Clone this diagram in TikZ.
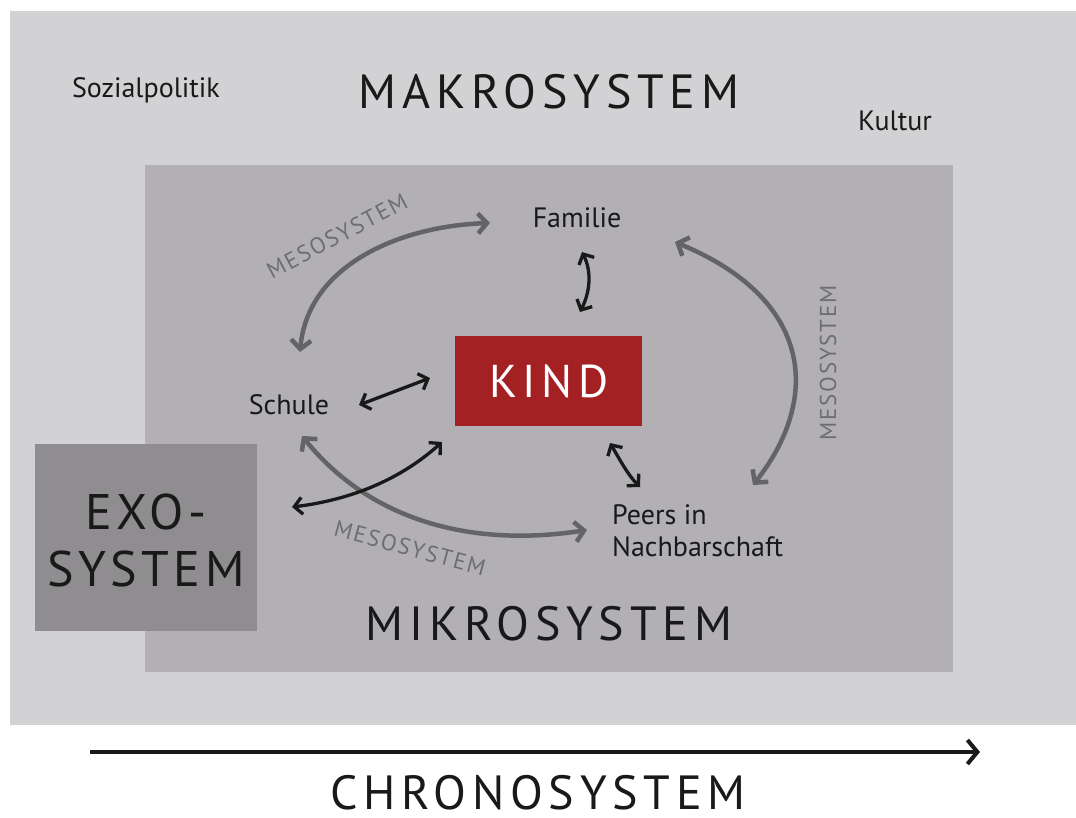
\documentclass[tikz,border=0pt]{standalone}
\usepackage{fontspec}
\setmainfont{PT Sans}
\newfontfamily\capsfont[LetterSpace=12]{PT Sans}
\newfontfamily\exofont[LetterSpace=9]{PT Sans}
\newfontfamily\mesofont[LetterSpace=8]{PT Sans}
\usetikzlibrary{arrows.meta}
\definecolor{makro}{RGB}{210,210,213}
\definecolor{mikro}{RGB}{178,176,180}
\definecolor{exo}{RGB}{143,141,144}
\definecolor{kindred}{RGB}{163,32,35}
\definecolor{meso}{RGB}{100,100,102}
\definecolor{mesotext}{RGB}{110,110,112}
\definecolor{ink}{RGB}{25,25,25}
\tikzset{
  lbl/.style={font=\fontsize{28}{32}\selectfont, text=ink, inner sep=0pt},
  big/.style={font=\capsfont\fontsize{48}{54}\selectfont, text=ink, inner sep=0pt},
  mesolbl/.style={font=\mesofont\fontsize{23}{25}\selectfont, text=mesotext, inner sep=0pt},
  mesoarrow/.style={draw=meso, line width=4.5pt, {Straight Barb[length=9pt,width=20pt]}-{Straight Barb[length=9pt,width=20pt]}},
  kidarrow/.style={draw=ink, line width=3.3pt, {Straight Barb[length=8pt,width=17pt]}-{Straight Barb[length=8pt,width=17pt]}},
}
\begin{document}
\begin{tikzpicture}[x=1pt,y=-1pt]
\useasboundingbox (0,0) rectangle (1076,817);
\fill[white] (0,0) rectangle (1076,817);
% boxes
\fill[makro] (10,11) rectangle (1076,725);
\fill[mikro] (145,165) rectangle (953,672);
\fill[exo] (35,444) rectangle (257,631);
\node[fill=kindred, minimum width=187pt, minimum height=90pt, inner sep=0pt, anchor=north west] (kind) at (455,336) {};
\node[font=\capsfont\fontsize{46}{50}\selectfont, text=white, inner sep=0pt] (kindtxt) at (kind.center) {KIND};
% texts
\node[lbl] (sozial) at (146,90) {Sozialpolitik};
\node[big] (makro) at (549,92) {MAKROSYSTEM};
\node[lbl] (kultur) at (895,121) {Kultur};
\node[lbl] (familie) at (577,218) {Familie};
\node[lbl] (schule) at (289,405) {Schule};
\node[lbl, align=left, anchor=north west] (peers) at (612,504) {Peers in\\Nachbarschaft};
\node[big] (mikro) at (549,624) {MIKROSYSTEM};
\node[font=\exofont\fontsize{50}{57}\selectfont, text=ink, inner sep=0pt, align=center] (exosys) at (146,540) {EXO-\\SYSTEM};
\node[big] (chrono) at (538,793) {CHRONOSYSTEM};
% meso labels
\node[mesolbl, rotate=28] (meso1) at (337,236) {MESOSYSTEM};
\node[mesolbl, rotate=90] (meso2) at (828,363) {MESOSYSTEM};
\node[mesolbl, rotate=-15] (meso3) at (410,548) {MESOSYSTEM};
% anchor points
\coordinate (fT) at (490,223);
\coordinate (sT) at (300,352);
\coordinate (fR) at (675,242);
\coordinate (pT) at (753,485);
\coordinate (sB) at (302,436);
\coordinate (pL) at (587,530);
\coordinate (fK) at (582,252);
\coordinate (kF) at (580,312);
\coordinate (sK) at (359,405);
\coordinate (kS) at (430,378);
\coordinate (kP) at (610,443);
\coordinate (pK) at (640,487);
\coordinate (eK) at (292,507);
\coordinate (kE) at (442,442);
\coordinate (c0) at (90,752);
\coordinate (c1) at (980,752);
% meso arrows
\draw[mesoarrow] (sT) .. controls (308,265) and (400,226) .. (fT);
\draw[mesoarrow] (fR) .. controls (815,300) and (820,400) .. (pT);
\draw[mesoarrow] (sB) .. controls (370,520) and (470,548) .. (pL);
% kind arrows
\draw[kidarrow] (fK) .. controls (592,272) and (590,292) .. (kF);
\draw[kidarrow] (sK) -- (kS);
\draw[kidarrow] (kP) .. controls (620,460) and (628,475) .. (pK);
\draw[kidarrow] (eK) .. controls (350,500) and (400,480) .. (kE);
% chrono
\draw[draw=ink, line width=4pt, -{Straight Barb[length=10pt,width=24pt]}] (c0) -- (c1);
\end{tikzpicture}
\end{document}
